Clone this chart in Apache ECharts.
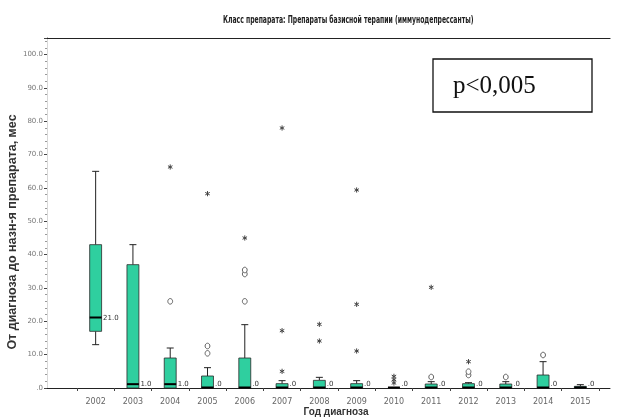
<!DOCTYPE html>
<html>
<head>
<meta charset="utf-8">
<script src="https://cdn.jsdelivr.net/npm/echarts@6/dist/echarts.min.js"></script>
<style>html,body{margin:0;padding:0;background:#fff}#c{width:623px;height:419px}</style>
</head>
<body>
<div id="c"></div>
<script>
// ---- data ----
const years = ['2002','2003','2004','2005','2006','2007','2008','2009','2010','2011','2012','2013','2014','2015'];
const mins    = [13, 0, 0, 0,   0, 0,   0,   0,   0, 0,   0,   0,   0,   0];
const q1s     = [17, 0, 0, 0,   0, 0,   0,   0,   0, 0,   0,   0,   0,   0];
const medians = [21, 1, 1, 0,   0, 0,   0,   0,   0, 0,   0,   0,   0,   0];
const q3s     = [43, 37, 9, 3.6, 9, 1.3, 2.3, 1.3, 0, 1.2, 1.3, 1.2, 3.9, 0.5];
const maxs    = [65, 43, 12, 6.1, 19, 2.2, 3.2, 2.2, 0, 1.9, 1.6, 1.9, 7.9, 1.0];
// outliers (circle = mild, star = extreme): [year, value]
const circleOutliers = [['2004',26],['2005',12.6],['2005',10.4],['2006',26],['2006',34.2],['2006',35.4],
  ['2011',3.3],['2012',3.9],['2012',4.9],['2013',3.3],['2014',9.9]];
const starOutliers = [['2004',66.3],['2005',58.3],['2006',45],['2007',78],['2007',17.2],['2007',5],
  ['2008',19.1],['2008',14.1],['2009',59.4],['2009',25.1],['2009',11.1],
  ['2010',3.5],['2010',2.5],['2010',1.5],['2011',30.2],['2012',7.9]];
const yTicks = [0,10,20,30,40,50,60,70,80,90,100];
const titleText = 'Класс препарата: Препараты базисной терапии (иммунодепрессанты)';
const yName = 'От диагноза до назн-я препарата, мес';
const xName = 'Год диагноза';
const pText = 'p<0,005';

const boxData = years.map((y,i)=>[i, mins[i], q1s[i], medians[i], q3s[i], maxs[i]]);
const fmt = v => v === 0 ? '.0' : v.toFixed(1);
const BOX = '#2fcf9f';

function renderBox(params, api){
  const i = api.value(0);
  const pMin = api.coord([i, api.value(1)]);
  const pQ1 = api.coord([i, api.value(2)]);
  const med = api.value(3);
  const pMed = api.coord([i, med]);
  const pQ3 = api.coord([i, api.value(4)]);
  const pMax = api.coord([i, api.value(5)]);
  const band = api.size([1,0])[0];
  const bw = band*0.32;
  const cx = pMed[0];
  const cap = 3.5;
  const st = {stroke:'#222', lineWidth:1};
  const ch = [];
  ch.push({type:'line', shape:{x1:cx,y1:pQ3[1],x2:cx,y2:pMax[1]}, style:st});
  ch.push({type:'line', shape:{x1:cx-cap,y1:pMax[1],x2:cx+cap,y2:pMax[1]}, style:st});
  ch.push({type:'line', shape:{x1:cx,y1:pQ1[1],x2:cx,y2:pMin[1]}, style:st});
  ch.push({type:'line', shape:{x1:cx-cap,y1:pMin[1],x2:cx+cap,y2:pMin[1]}, style:st});
  ch.push({type:'rect', shape:{x:cx-bw/2, y:pQ3[1], width:bw, height:pQ1[1]-pQ3[1]},
    style:{fill:BOX, stroke:'#2a2a2a', lineWidth:0.8}});
  ch.push({type:'line', shape:{x1:cx-bw/2,y1:pMed[1]-0.5,x2:cx+bw/2,y2:pMed[1]-0.5}, style:{stroke:'#000', lineWidth:2}});
  ch.push({type:'text', x:cx+bw/2+1.5, y:Math.min(pMed[1], 384),
    style:{text:fmt(med), fill:'#333', font:'7px "DejaVu Sans", sans-serif', verticalAlign:'middle', align:'left'}});
  return {type:'group', children:ch};
}
function renderCircle(params, api){
  const p = api.coord([api.value(0), api.value(1)]);
  return {type:'ellipse', shape:{cx:p[0], cy:p[1], rx:2.4, ry:2.8}, style:{fill:'#fff', stroke:'#555', lineWidth:0.9}};
}
function renderStar(params, api){
  const p = api.coord([api.value(0), api.value(1)]);
  const r = 2.6, ch = [];
  [90, 30, 150].forEach(a=>{
    const rad = a*Math.PI/180, dx = Math.cos(rad)*r, dy = Math.sin(rad)*r;
    ch.push({type:'line', shape:{x1:p[0]-dx,y1:p[1]-dy,x2:p[0]+dx,y2:p[1]+dy}, style:{stroke:'#444', lineWidth:1}});
  });
  return {type:'group', children:ch};
}

const chart = echarts.init(document.getElementById('c'), null, {renderer:'canvas'});
const axisLbl = {fontSize:7, color:'#777', fontFamily:'DejaVu Sans'};
chart.setOption({
  animation:false,
  backgroundColor:'#fff',
  grid:[
    {left:47, right:13, top:38, bottom:31},
    {left:77, right:24, top:38, bottom:31}
  ],
  xAxis:[
    {gridIndex:0, type:'value', min:0, max:1, axisLine:{show:true, onZero:false, lineStyle:{color:'#222', width:1}},
      axisTick:{show:false}, axisLabel:{show:false}, splitLine:{show:false}},
    {gridIndex:0, type:'value', position:'top', min:0, max:1, axisLine:{show:true, onZero:false, lineStyle:{color:'#222', width:1.2}},
      axisTick:{show:false}, axisLabel:{show:false}, splitLine:{show:false}},
    {gridIndex:1, type:'category', data:years, axisLine:{show:false},
      axisTick:{show:true, length:3, lineStyle:{color:'#444'}},
      axisLabel:{margin:10, fontSize:8, color:'#666', fontFamily:'DejaVu Sans'}, splitLine:{show:false}}
  ],
  yAxis:[
    {gridIndex:0, type:'value', min:0, max:105, interval:10,
      axisLine:{show:true, lineStyle:{color:'#222'}},
      axisTick:{show:true, length:3, lineStyle:{color:'#444'}},
      minorTick:{show:true, splitNumber:5, length:2, lineStyle:{color:'#999'}},
      axisLabel:Object.assign({margin:4, showMaxLabel:false, formatter:v=> yTicks.indexOf(v)>=0 ? fmt(v) : ''}, axisLbl),
      splitLine:{show:false}},
    {gridIndex:0, type:'value', position:'right', min:0, max:105,
      axisLine:{show:true, lineStyle:{color:'#d8d8d8'}}, axisTick:{show:false}, axisLabel:{show:false}, splitLine:{show:false}},
    {gridIndex:1, type:'value', min:0, max:105, show:false}
  ],
  series:[
    {type:'custom', xAxisIndex:2, yAxisIndex:2, renderItem:renderBox, data:boxData, clip:false},
    {type:'custom', xAxisIndex:2, yAxisIndex:2, renderItem:renderCircle, data:circleOutliers.map(d=>[years.indexOf(d[0]), d[1]])},
    {type:'custom', xAxisIndex:2, yAxisIndex:2, renderItem:renderStar, data:starOutliers.map(d=>[years.indexOf(d[0]), d[1]])}
  ],
  graphic:[
    {type:'text', x:223, y:20, scaleX:0.61, style:{text:titleText, fill:'#222', verticalAlign:'middle', align:'left',
      font:'bold 10px "DejaVu Sans", sans-serif'}},
    {type:'text', x:13, y:232, rotation:Math.PI/2, style:{text:yName, fill:'#333', align:'center', verticalAlign:'middle',
      font:'bold 12.5px "Liberation Sans", Arial, sans-serif'}},
    {type:'text', x:336, y:412, style:{text:xName, fill:'#333', align:'center', verticalAlign:'middle',
      font:'bold 10px "Liberation Sans", Arial, sans-serif'}},
    {type:'rect', shape:{x:433, y:59, width:159, height:53}, style:{fill:'#fff', stroke:'#111', lineWidth:1.3}},
    {type:'text', x:453, y:86, style:{text:pText, fill:'#111', verticalAlign:'middle', align:'left',
      font:'25px "Liberation Serif", "Times New Roman", serif'}}
  ]
});
</script>
</body>
</html>
